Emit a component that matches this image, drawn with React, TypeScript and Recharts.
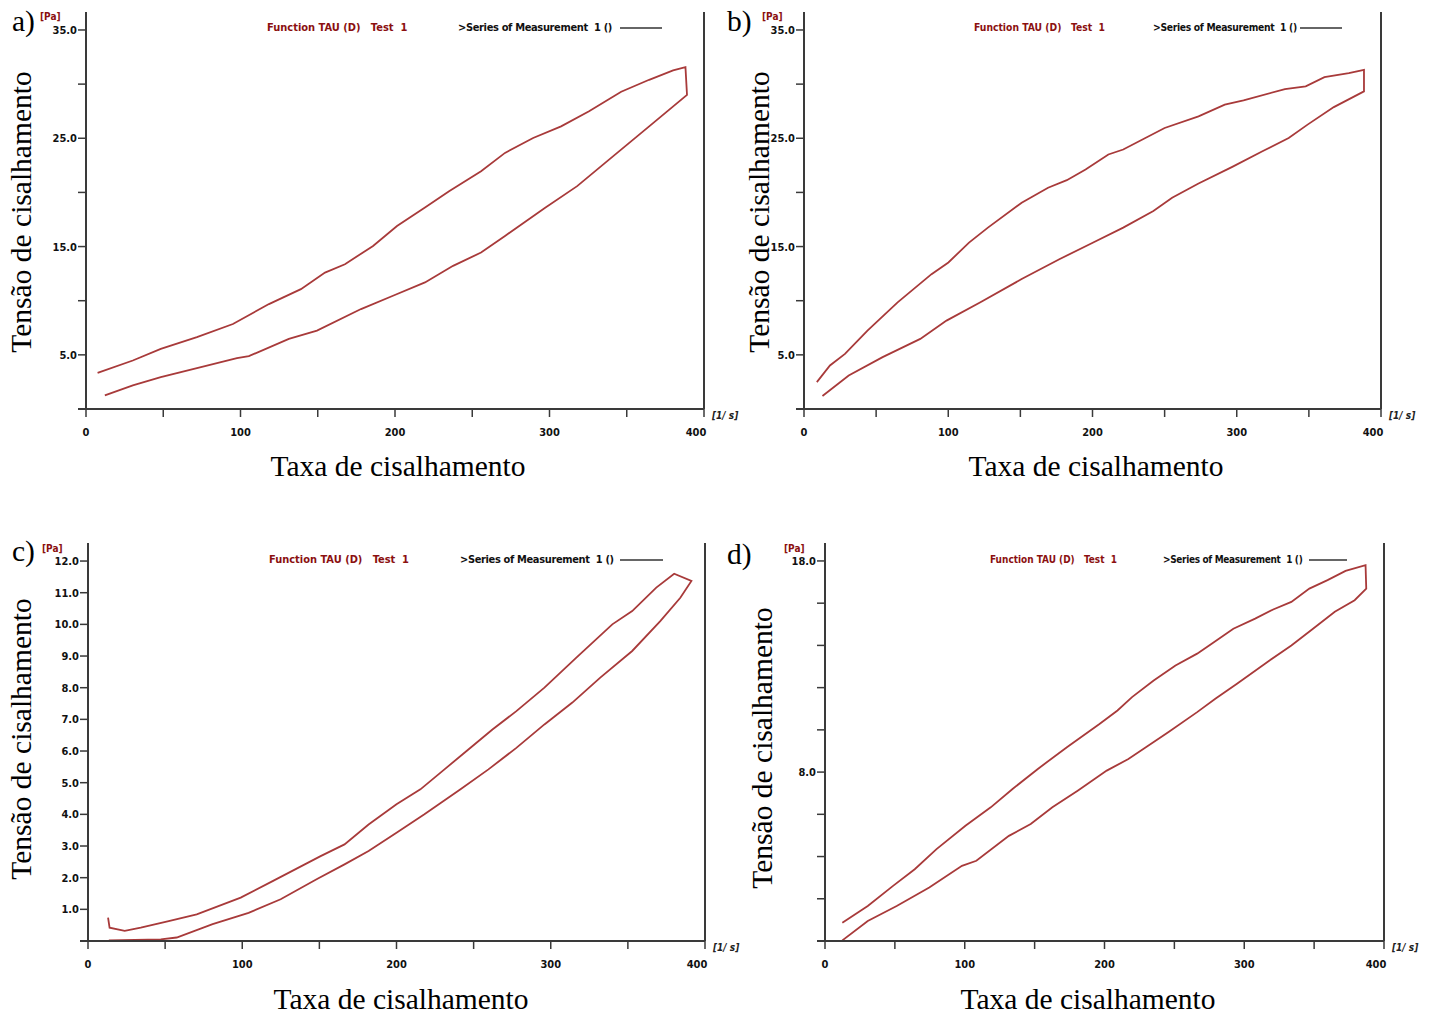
import React from "react";
import { LineChart, Line, XAxis, YAxis, ReferenceLine } from "recharts";

// shear rate [1/s] and shear stress [Pa] read along each ramp
const rateUpA = [7.5, 30.3, 48.4, 71.8, 95.1, 118.4, 139.1, 154.7, 167.6, 185.8, 201.3, 219.4, 235, 255.7, 271.2, 289.4, 307.5, 325.6, 346.4, 364.5, 380, 388];
const tauUpA = [3.34, 4.48, 5.55, 6.63, 7.85, 9.69, 11.07, 12.6, 13.37, 15.06, 16.9, 18.6, 20.1, 21.96, 23.65, 25.03, 26.1, 27.5, 29.3, 30.4, 31.26, 31.56];
const rateDownA = [389, 364.5, 336, 317.9, 297.2, 271.2, 255.7, 237.6, 219.4, 198.7, 178, 149.5, 131.3, 105.4, 97.7, 74.4, 48.4, 30.3, 12.2];
const tauDownA = [29.0, 26.1, 22.73, 20.58, 18.59, 15.98, 14.45, 13.22, 11.69, 10.46, 9.23, 7.24, 6.47, 4.88, 4.69, 3.87, 2.94, 2.18, 1.26];

const rateUpB = [8.9, 18, 28.4, 44, 64.9, 88.4, 100.1, 114.4, 127.5, 150.9, 169.2, 182.2, 195.2, 211, 221.3, 250, 273.5, 291.7, 304.7, 333.4, 347.8, 360.8, 377.7, 388.2];
const tauUpB = [2.48, 4.02, 5.09, 7.24, 9.85, 12.45, 13.53, 15.37, 16.75, 19.05, 20.43, 21.13, 22.12, 23.5, 23.96, 25.95, 27.02, 28.1, 28.5, 29.54, 29.79, 30.64, 31.01, 31.32];
const rateDownB = [388.2, 367.3, 349.1, 336, 317.8, 296.9, 273.5, 255.2, 242.2, 221.3, 200.5, 177, 150.9, 122.3, 98.8, 80.6, 54.5, 31, 12.8];
const tauDownB = [29.33, 27.88, 26.26, 25.03, 23.8, 22.36, 20.83, 19.51, 18.28, 16.75, 15.37, 13.83, 12.0, 9.85, 8.16, 6.47, 4.79, 3.1, 1.2];

const rateUpC = [13, 14, 23.8, 34.2, 52.3, 70.5, 99, 119.7, 150.8, 166.3, 181.9, 200, 215.5, 231.1, 246.6, 262.2, 277.7, 295.9, 316.6, 339.9, 352.8, 368.4, 380];
const tauUpC = [0.74, 0.42, 0.32, 0.42, 0.63, 0.84, 1.37, 1.89, 2.68, 3.05, 3.68, 4.32, 4.79, 5.42, 6.05, 6.68, 7.26, 8.0, 8.95, 10.0, 10.42, 11.16, 11.6];
const rateDownC = [391.2, 384, 371, 352.8, 332.1, 314, 295.9, 277.7, 259.6, 241.5, 218.1, 200, 181.9, 166.3, 148.2, 124.9, 104.1, 80.8, 57.5, 47.2, 13.5];
const tauDownC = [11.37, 10.84, 10.1, 9.16, 8.32, 7.53, 6.84, 6.1, 5.42, 4.79, 4.0, 3.42, 2.84, 2.42, 1.95, 1.32, 0.89, 0.53, 0.11, 0.05, 0.02];

const rateUpD = [12.4, 30.6, 48.7, 64.2, 79.8, 100.5, 118.6, 134.2, 152.3, 173.1, 196.4, 209.3, 219.7, 235.2, 250.8, 266.3, 276.7, 292.2, 307.8, 320.7, 333.7, 346.6, 359.6, 372.5, 386.8];
const tauUpD = [0.87, 1.66, 2.61, 3.4, 4.35, 5.46, 6.33, 7.2, 8.15, 9.18, 10.28, 10.92, 11.55, 12.34, 13.05, 13.61, 14.08, 14.79, 15.27, 15.7, 16.06, 16.69, 17.09, 17.53, 17.8];
const rateDownD = [387.3, 379, 364.8, 349.2, 333.7, 318.1, 294.8, 279.3, 266.3, 245.6, 217.1, 201.6, 180.8, 162.7, 147.2, 131.6, 108.3, 98, 74.6, 51.3, 30.6, 12.4];
const tauDownD = [16.69, 16.14, 15.59, 14.79, 14.0, 13.29, 12.18, 11.47, 10.84, 9.89, 8.62, 8.07, 7.12, 6.33, 5.54, 4.98, 3.8, 3.56, 2.53, 1.66, 0.95, 0.03];

// axis ticks
const rateTicks = [0, 50, 100, 150, 200, 250, 300, 350, 400];
const rateLabels = [0, 100, 200, 300, 400];
const tauTicksAB = [5, 10, 15, 20, 25, 30, 35];
const tauLabelsAB = [5, 15, 25, 35];
const tauTicksC = [1, 2, 3, 4, 5, 6, 7, 8, 9, 10, 11, 12];
const tauLabelsC = [1, 2, 3, 4, 5, 6, 7, 8, 9, 10, 11, 12];
const tauTicksD = [2, 4, 6, 8, 10, 12, 14, 16, 18];
const tauLabelsD = [8, 18];

const AXIS = "#3a3a3a";
const CURVE = "#a83a3a";
const DARK_RED = "#8b1010";
const PIXEL_FONT = "'DejaVu Sans Condensed', 'Liberation Sans Narrow', 'DejaVu Sans', sans-serif";
const SERIF = "'Liberation Serif', 'Times New Roman', serif";
const TITLE_SIZE = 29.5;
const Y_AXIS_W = 70;
const X_AXIS_H = 40;
const PAD = 4;
const BASE_W = 618; // widest plot, used to squeeze the header text of narrower panels

// the loop: up-ramp left to right, then down-ramp back
function loop(rUp: number[], tUp: number[], rDown: number[], tDown: number[]) {
  const up = rUp.map((r, i) => ({ rate: r, tau: tUp[i] }));
  const down = rDown.map((r, i) => ({ rate: r, tau: tDown[i] }));
  return [...up, ...down];
}

const panels = [
  {
    id: "a", x0: 86, x400: 704, top: 12, bottom: 409, yMax: 36.66,
    ticks: tauTicksAB, labels: tauLabelsAB,
    data: loop(rateUpA, tauUpA, rateDownA, tauDownA),
    letter: [12, 6], pa: [40, 11], head: [267, 458, 620, 662, 28],
    yTitle: [20.5, 212], xTitle: [398, 465.5],
  },
  {
    id: "b", x0: 804, x400: 1381, top: 12, bottom: 409, yMax: 36.66,
    ticks: tauTicksAB, labels: tauLabelsAB,
    data: loop(rateUpB, tauUpB, rateDownB, tauDownB),
    letter: [727, 6], pa: [762, 11], head: [974, 1153, 1300, 1342, 28],
    yTitle: [758.5, 212], xTitle: [1096, 465.5],
  },
  {
    id: "c", x0: 88, x400: 705, top: 543, bottom: 941, yMax: 12.57,
    ticks: tauTicksC, labels: tauLabelsC,
    data: loop(rateUpC, tauUpC, rateDownC, tauDownC),
    letter: [12, 536], pa: [42, 543], head: [269, 460, 620, 663, 560],
    yTitle: [20.5, 739], xTitle: [401, 998.5],
  },
  {
    id: "d", x0: 825, x400: 1384, top: 543, bottom: 941, yMax: 18.85,
    ticks: tauTicksD, labels: tauLabelsD,
    data: loop(rateUpD, tauUpD, rateDownD, tauDownD),
    letter: [727, 539], pa: [784, 543], head: [990, 1163, 1309, 1347, 560],
    yTitle: [761.5, 748], xTitle: [1088, 998.5],
  },
];

const smallText: React.CSSProperties = {
  position: "absolute",
  fontFamily: PIXEL_FONT,
  fontWeight: 700,
  fontSize: 11,
  lineHeight: "12px",
  whiteSpace: "pre",
  transformOrigin: "left center",
};

const titleText: React.CSSProperties = {
  position: "absolute",
  fontFamily: SERIF,
  fontSize: TITLE_SIZE,
  lineHeight: "30px",
  whiteSpace: "nowrap",
  color: "#000",
};

function Panel({ p }: { p: any }) {
  const plotW = p.x400 - p.x0;
  const plotH = p.bottom - p.top;
  const squeeze = `scaleX(${(plotW / BASE_W).toFixed(3)})`;
  const [fx, sx, l0, l1, hy] = p.head;

  const rateTick = (props: any) => {
    const { x, y, payload } = props;
    if (!rateLabels.includes(payload.value)) return <g />;
    return (
      <text x={x} y={y} dy="0.71em" textAnchor="middle" fontFamily={PIXEL_FONT} fontWeight={700} fontSize={11} fill="#111">
        {payload.value}
      </text>
    );
  };
  const tauTick = (props: any) => {
    const { x, y, payload } = props;
    if (!p.labels.includes(payload.value)) return <g />;
    return (
      <text x={x} y={y} dy="0.36em" textAnchor="end" fontFamily={PIXEL_FONT} fontWeight={700} fontSize={11} fill="#111">
        {payload.value.toFixed(1)}
      </text>
    );
  };

  return (
    <>
      <div style={{ position: "absolute", left: p.x0 - Y_AXIS_W, top: p.top - PAD }}>
        <LineChart
          width={plotW + Y_AXIS_W + PAD}
          height={plotH + PAD + X_AXIS_H}
          data={p.data}
          margin={{ top: PAD, right: PAD, left: 0, bottom: 0 }}
        >
          <XAxis
            type="number"
            dataKey="rate"
            domain={[0, 400]}
            ticks={rateTicks}
            tick={rateTick}
            tickSize={8}
            tickMargin={11}
            height={X_AXIS_H}
            axisLine={{ stroke: AXIS, strokeWidth: 2 }}
            tickLine={{ stroke: AXIS, strokeWidth: 1.5 }}
            allowDataOverflow
          />
          <YAxis
            type="number"
            domain={[0, p.yMax]}
            ticks={p.ticks}
            tick={tauTick}
            tickSize={8}
            tickMargin={1}
            width={Y_AXIS_W}
            axisLine={{ stroke: AXIS, strokeWidth: 2 }}
            tickLine={{ stroke: AXIS, strokeWidth: 1.5 }}
            allowDataOverflow
          />
          <ReferenceLine x={400} stroke={AXIS} strokeWidth={2} />
          <Line
            type="linear"
            dataKey="tau"
            stroke={CURVE}
            strokeWidth={1.8}
            dot={false}
            activeDot={false}
            isAnimationActive={false}
          />
        </LineChart>
      </div>

      {/* bottom axis runs a few pixels past the left axis */}
      <div style={{ position: "absolute", left: p.x0 - 8, top: p.bottom - 1, width: 8, height: 2, background: AXIS }} />

      <div style={{ ...smallText, fontSize: 10, left: p.x400 + 8, top: p.bottom + 1, fontStyle: "italic", color: "#222" }}>[1/ s]</div>
      <div style={{ ...smallText, fontSize: 10, left: p.pa[0], top: p.pa[1], color: DARK_RED }}>[Pa]</div>
      <div style={{ ...smallText, left: fx, top: hy - 6, color: DARK_RED, transform: squeeze }}>Function TAU (D)   Test  1</div>
      <div style={{ ...smallText, left: sx, top: hy - 6, color: "#111", letterSpacing: -0.35, transform: squeeze }}>
        {">Series of Measurement  1 ()"}
      </div>
      <div style={{ position: "absolute", left: l0, top: hy - 1, width: l1 - l0, height: 2, background: "#666" }} />

      <div style={{ ...titleText, left: p.letter[0], top: p.letter[1] }}>{p.id})</div>
      <div style={{ ...titleText, left: p.yTitle[0], top: p.yTitle[1], transform: "translate(-50%, -50%) rotate(-90deg)" }}>
        Tensão de cisalhamento
      </div>
      <div style={{ ...titleText, left: p.xTitle[0], top: p.xTitle[1], transform: "translate(-50%, -50%)" }}>
        Taxa de cisalhamento
      </div>
    </>
  );
}

export default function App() {
  return (
    <div style={{ position: "absolute", left: 0, top: 0, width: 1432, height: 1015, background: "#fff" }}>
      {panels.map((p) => (
        <Panel key={p.id} p={p} />
      ))}
    </div>
  );
}
